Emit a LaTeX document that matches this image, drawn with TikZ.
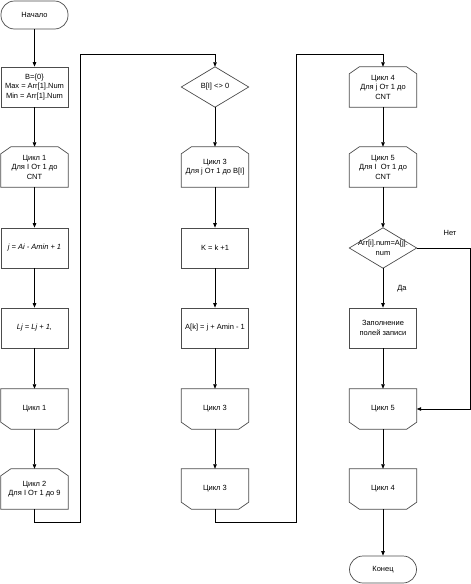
\documentclass[tikz,border=0pt]{standalone}
\usepackage{fontspec}
\setmainfont{Liberation Sans}
\usetikzlibrary{arrows.meta,calc}
\tikzset{
  x=1pt,y=1pt,
  txt/.style={draw=none,minimum width=67pt,minimum height=40pt,inner sep=0pt,align=center,
    font=\fontsize{7.5}{9.5}\selectfont},
  shp/.style={draw=black!70,line width=0.7pt,line join=miter},
  arr/.style={draw=black,line width=0.7pt,-{Triangle[length=4.5pt,width=3.5pt]}},
  lin/.style={draw=black,line width=0.7pt},
  proc/.style={txt,draw=black!70,line width=0.7pt},
  term/.style={txt,draw=black!70,line width=0.7pt,rounded corners=13.5pt,minimum height=28pt},
  lbl/.style={font=\fontsize{7.5}{9.5}\selectfont,inner sep=0pt}
}
\newcommand\lpstart[4]{\node[txt] (#1) at (#2,#3) {#4};
  \draw[shp] (#1.south west) -- ($(#1.north west)+(0,-7)$) -- ($(#1.north west)+(10,0)$) -- ($(#1.north east)+(-10,0)$) -- ($(#1.north east)+(0,-7)$) -- (#1.south east) -- cycle;}
\newcommand\lpend[4]{\node[txt] (#1) at (#2,#3) {#4};
  \draw[shp] (#1.north west) -- ($(#1.south west)+(0,7)$) -- ($(#1.south west)+(10,0)$) -- ($(#1.south east)+(-10,0)$) -- ($(#1.south east)+(0,7)$) -- (#1.north east) -- cycle;}
\newcommand\decis[4]{\node[txt] (#1) at (#2,#3) {#4};
  \draw[shp] (#1.north) -- (#1.east) -- (#1.south) -- (#1.west) -- cycle;}
\begin{document}
\begin{tikzpicture}
\useasboundingbox (0,0) rectangle (471,-584);
% column 1
\node[term] (start) at (34.5,-15) {Начало};
\node[proc] (init) at (34.5,-87) {B=\{0\}\\Max = Arr[1].Num\\Min = Arr[1].Num};
\lpstart{c1s}{34.5}{-167}{Цикл 1\\Для I От 1 до\\CNT}
\node[proc] (pj) at (34.5,-248) {\itshape j = Ai - Amin + 1};
\node[proc] (pl) at (34.5,-328) {\itshape Lj = Lj + 1,};
\lpend{c1e}{34.5}{-409}{Цикл 1}
\lpstart{c2s}{34.5}{-489}{Цикл 2\\Для I От 1 до 9}
% column 2
\decis{d1}{215}{-87}{B[I] <> 0}
\lpstart{c3s}{215}{-167}{Цикл 3\\Для j От 1 до B[I]}
\node[proc] (pk) at (215,-248) {K = k +1};
\node[proc] (pa) at (215,-328) {A[k] = j + Amin - 1};
\lpend{c3e}{215}{-409}{Цикл 3}
\lpend{c3f}{215}{-489}{Цикл 3}
% column 3
\lpstart{c4s}{383}{-87}{Цикл 4\\Для j От 1 до\\CNT}
\lpstart{c5s}{383}{-167}{Цикл 5\\Для I\ \ От 1 до\\CNT}
\decis{d2}{383}{-248}{Arr[i].num=A[j].\\num}
\node[proc] (pf) at (383,-328) {Заполнение\\полей записи};
\lpend{c5e}{383}{-409}{Цикл 5}
\lpend{c4e}{383}{-489}{Цикл 4}
\node[term,minimum height=27pt] (fin) at (383,-569.5) {Конец};
% connectors column 1
\draw[arr] (start.south) -- (init.north);
\draw[arr] (init.south) -- (c1s.north);
\draw[arr] (c1s.south) -- (pj.north);
\draw[arr] (pj.south) -- (pl.north);
\draw[arr] (pl.south) -- (c1e.north);
\draw[arr] (c1e.south) -- (c2s.north);
\coordinate (j1) at (80,-522);
\coordinate (j2) at (80,-54);
\draw[arr] (c2s.south) |- (j1) -- (j2) -| (d1.north);
% column 2
\draw[arr] (d1.south) -- (c3s.north);
\draw[arr] (c3s.south) -- (pk.north);
\draw[arr] (pk.south) -- (pa.north);
\draw[arr] (pa.south) -- (c3e.north);
\draw[arr] (c3e.south) -- (c3f.north);
\coordinate (j3) at (296,-522);
\coordinate (j4) at (296,-54);
\draw[arr] (c3f.south) |- (j3) -- (j4) -| (c4s.north);
% column 3
\draw[arr] (c4s.south) -- (c5s.north);
\draw[arr] (c5s.south) -- (d2.north);
\draw[arr] (d2.south) -- (pf.north);
\draw[arr] (pf.south) -- (c5e.north);
\coordinate (n1) at (470,-248);
\draw[arr] (d2.east) -- (n1) |- (c5e.east);
\draw[arr] (c5e.south) -- (c4e.north);
\draw[arr] (c4e.south) -- (fin.north);
\node[lbl] (lno) at (450,-233) {Нет};
\node[lbl] (lyes) at (402,-289) {Да};
\end{tikzpicture}
\end{document}
